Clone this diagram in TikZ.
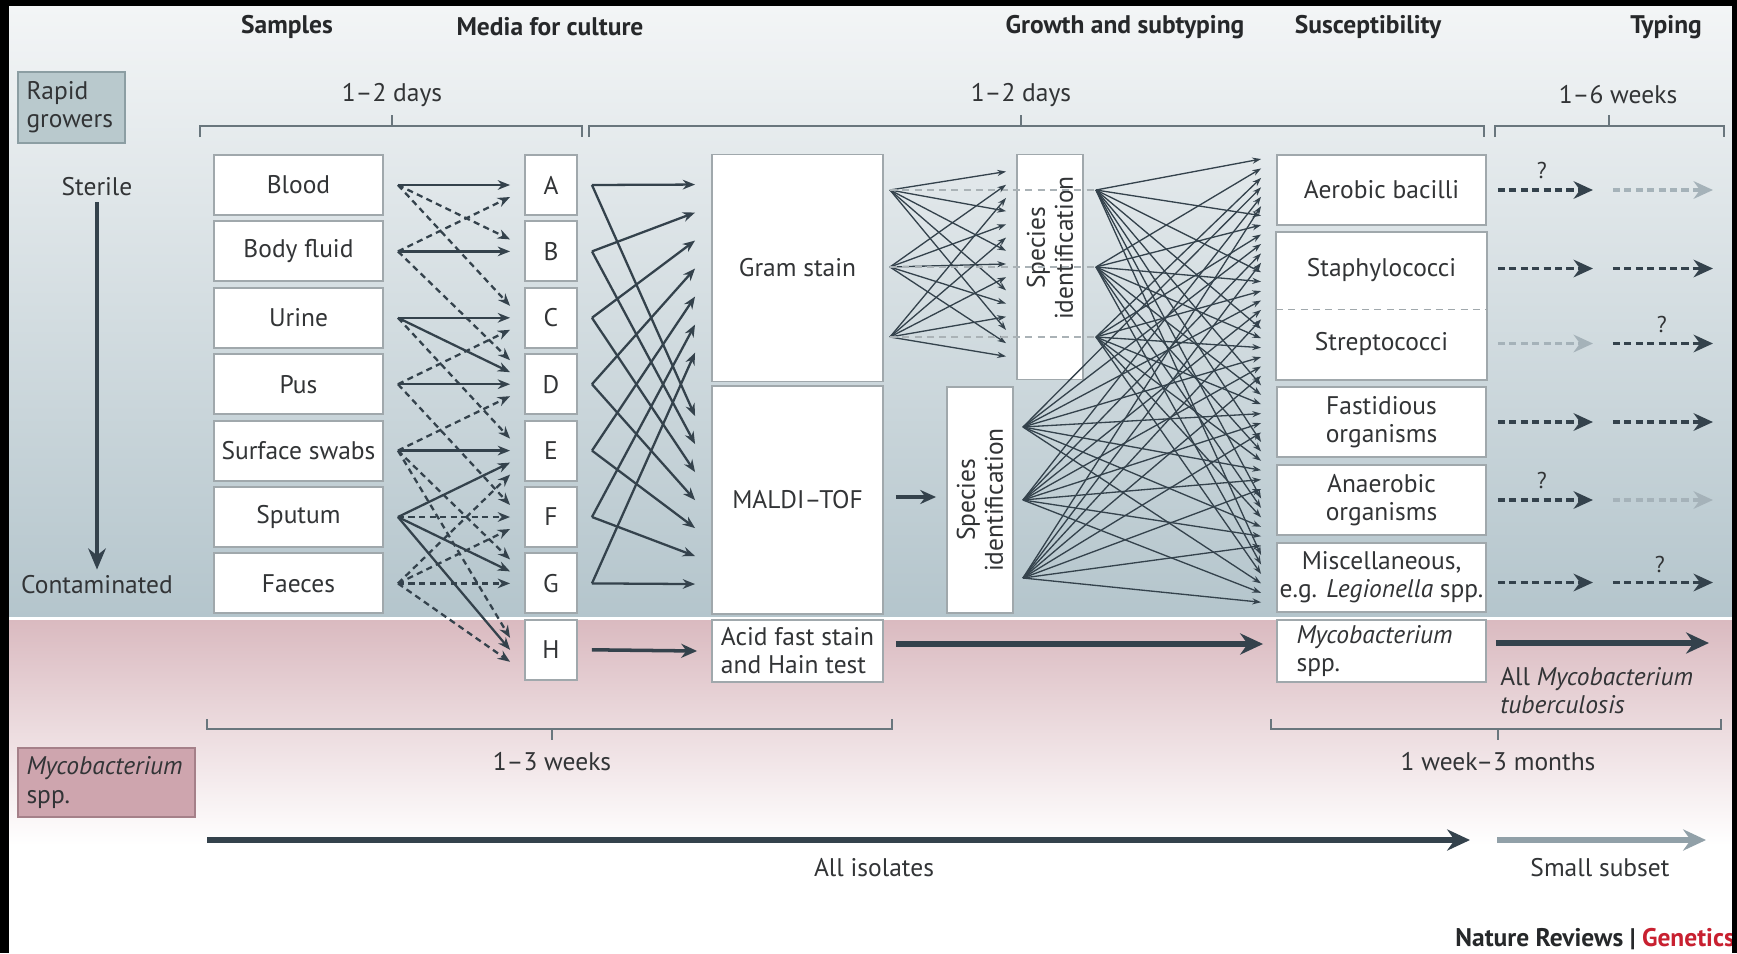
\documentclass[tikz,border=0pt]{standalone}
\usepackage{fontspec}
\setmainfont{PT Sans}
\usetikzlibrary{arrows.meta,calc,positioning}
\definecolor{ink}{RGB}{50,52,54}
\definecolor{headc}{RGB}{38,40,42}
\definecolor{linec}{RGB}{52,66,76}
\definecolor{boxline}{RGB}{160,168,172}
\definecolor{bgtop}{RGB}{243,245,246}
\definecolor{bgbot}{RGB}{180,197,204}
\definecolor{pinktop}{RGB}{218,186,192}
\definecolor{lightarr}{RGB}{165,178,185}
\definecolor{subc}{RGB}{145,160,168}
\definecolor{idline}{RGB}{170,178,182}
\definecolor{rapidfill}{RGB}{185,201,205}
\definecolor{rapidline}{RGB}{140,158,163}
\definecolor{mycofill}{RGB}{206,165,174}
\definecolor{mycoline}{RGB}{165,128,137}
\definecolor{brkc}{RGB}{105,118,125}
\definecolor{natred}{RGB}{200,32,48}

\begin{document}
\begin{tikzpicture}[x=0.02cm,y=-0.02cm,text=ink,
    font=\fontsize{14.5}{16}\selectfont,
    cbox/.style={draw=boxline,line width=1.1pt,fill=white,inner sep=0pt,align=center},
    smpbox/.style={cbox,minimum width=3.38cm,minimum height=1.2cm},
    medbox/.style={cbox,minimum width=1.04cm,minimum height=1.2cm},
    resbox/.style={cbox,minimum width=4.18cm},
    headtxt/.style={font=\fontsize{14.5}{16}\selectfont\bfseries,text=headc},
    smparr/.style={draw=linec,line width=1.3pt,-{Stealth[length=7pt,width=5.5pt]}},
    smpdash/.style={smparr,dash pattern=on 3.5pt off 2.5pt},
    fanarr/.style={draw=linec,line width=0.75pt,-{Stealth[length=5pt,width=3.5pt]}},
    typarr/.style={line width=2.2pt,dash pattern=on 4pt off 2.5pt,-{Stealth[length=11pt,width=10pt]}},
    bigarr/.style={draw=linec,line width=3pt,-{Stealth[length=13pt,width=12pt]}},
    brk/.style={draw=brkc,line width=1.2pt}]
    \useasboundingbox (0,0) rectangle (1737,953);
    \fill[black] (0,0) rectangle (1737,953);
    \shade[top color=bgtop,bottom color=bgbot] (9,7) rectangle (1732,617);
    \fill[white] (9,617) rectangle (1732,953);
    \shade[top color=pinktop,bottom color=white] (9,620) rectangle (1732,845);

    \node[headtxt] (hsmp) at (287,27) {Samples};
    \node[headtxt] (hmed) at (550,27) {Media for culture};
    \node[headtxt] (hgro) at (1125,27) {Growth and subtyping};
    \node[headtxt] (hsus) at (1368,27) {Susceptibility};
    \node[headtxt] (htyp) at (1666,27) {Typing};

    \node (dur1) at (392,95) {1–2 days};
    \node (dur2) at (1021,95) {1–2 days};
    \node (dur3) at (1618,95) {1–6 weeks};
    \draw[brk] (200,137) -- (200,126) -- (582,126) -- (582,137) (392,126) -- (392,115);
    \draw[brk] (589,137) -- (589,126) -- (1484,126) -- (1484,137) (1021,126) -- (1021,115);
    \draw[brk] (1495,137) -- (1495,126) -- (1724,126) -- (1724,137) (1609,126) -- (1609,115);

    \node[draw=rapidline,fill=rapidfill,line width=1pt,minimum width=2.14cm,minimum height=1.42cm,
          inner sep=0pt,text width=1.8cm,align=left] (rapid) at (71.5,107.5) {Rapid\\growers};
    \node (ster) at (97,187) {Sterile};
    \node (cont) at (97,585) {Contaminated};
    \draw[linec,line width=2pt,-{Stealth[length=12pt,width=10pt]}] (ster) -- (cont);

    \foreach \lab [count=\i] in {Blood,Body fluid,Urine,Pus,Surface swabs,Sputum,Faeces}{
        \node[smpbox] (s\i) at (298.5,{185+66.4*(\i-1)}) {\lab};
    }
    \foreach \l [count=\i from 0] in {A,...,H}{
        \node[medbox] (m\l) at (551,{185+66.4*\i}) {\l};
    }
    \node[cbox,minimum width=3.42cm,minimum height=4.54cm] (gram) at (797.5,268) {Gram stain};
    \node[cbox,minimum width=3.42cm,minimum height=4.56cm] (maldi) at (797.5,500) {MALDI–TOF};
    \node[cbox,minimum width=3.42cm,minimum height=1.24cm,align=left] (acid) at (797.5,651) {Acid fast stain\\and Hain test};
    \node[cbox,minimum width=1.32cm,minimum height=4.5cm] (idup) at (1050,267) {};
    \node[rotate=90,align=center] (iduptxt) at (1050,248) {Species\\identification};
    \node[cbox,minimum width=1.32cm,minimum height=4.52cm] (idlow) at (980,500) {};
    \node[rotate=90,align=center] (idlowtxt) at (idlow) {Species\\identification};

    \node[resbox,minimum height=1.4cm] (aer) at (1381.5,190) {Aerobic bacilli};
    \node[resbox,draw=none,minimum height=1.51cm] (sta) at (1381.5,270.5) {Staphylococci};
    \node[resbox,draw=none,minimum height=1.41cm] (str) at (1381.5,343.5) {Streptococci};
    \draw[boxline,line width=1.1pt] (sta.north west) rectangle (str.south east);
    \draw[boxline,line width=0.8pt,dash pattern=on 4pt off 3pt] (sta.south west) -- (sta.south east);
    \node[resbox,minimum height=1.4cm] (fas) at (1381.5,422) {Fastidious\\organisms};
    \node[resbox,minimum height=1.4cm] (ana) at (1381.5,500) {Anaerobic\\organisms};
    \node[resbox,minimum height=1.38cm] (mis) at (1381.5,577.5) {Miscellaneous,\\e.g. \textit{Legionella} spp.};
    \node[resbox,minimum height=1.24cm,text width=3.4cm,align=left] (myc) at (1381.5,651) {\textit{Mycobacterium}\\spp.};

    \foreach \s/\t/\o in {1/A/0,2/B/0,3/C/0,3/D/-12,4/D/0,5/E/0,6/E/12,6/G/-12,6/H/0}
        \draw[smparr] ($(s\s.east)+(14,0)$) -- ($(m\t.west)+(-14,\o)$);
    \foreach \s/\t/\o in {1/B/-12,1/C/-12,2/A/12,2/D/-24,3/E/-12,4/C/12,4/F/-12,5/D/12,
                          5/G/-24,5/H/-12,6/F/0,7/E/24,7/F/12,7/G/0,7/H/12}
        \draw[smpdash] ($(s\s.east)+(14,0)$) -- ($(m\t.west)+(-14,\o)$);

    \foreach \l [count=\i from 0] in {A,...,G}{
        \draw[smparr] ($(m\l.east)+(14,0)$) -- ($(gram.north west)+(-16,{31+28*\i})$);
        \draw[smparr] ($(m\l.east)+(14,0)$) -- ($(maldi.north west)+(-16,{31+28*\i})$);
    }

    \coordinate (g1) at ($(gram.east)+(6,-78)$);
    \coordinate (g2) at ($(gram.east)+(6,-1)$);
    \coordinate (g3) at ($(gram.east)+(6,69)$);
    \coordinate (u1) at ($(idup.east)+(12,-77)$);
    \coordinate (u2) at ($(idup.east)+(12,0)$);
    \coordinate (u3) at ($(idup.east)+(12,70)$);
    \coordinate (l1) at ($(idlow.east)+(9,-73)$);
    \coordinate (l2) at ($(idlow.east)+(9,0)$);
    \coordinate (l3) at ($(idlow.east)+(9,78)$);
    \foreach \i in {1,2,3}{
        \foreach \m in {0,...,4}
            \draw[fanarr] (g\i) -- ($(idup.north west)+(-10,{18+13.2*(3*\m+\i-1)})$);
        \draw[idline,line width=0.9pt,dash pattern=on 4pt off 3pt] (g\i) -- (u\i);
    }
    \foreach \src [count=\k from 0] in {u1,u2,u3,l1,l2,l3}{
        \foreach \m in {0,...,7}
            \draw[fanarr] (\src) -- ($(aer.north west)+(-15,{5+9.43*(6*\m+\k)})$);
    }
    \draw[linec,line width=2pt,-{Stealth[length=9pt,width=8pt]}] ($(maldi.east)+(12,-3)$) -- ($(idlow.west)+(-10,-3)$);

    \foreach \b/\o/\ca/\cb in {aer/0/linec/lightarr,sta/-2/linec/linec,str/0/lightarr/linec,
                              fas/0/linec/linec,ana/0/linec/lightarr,mis/5/linec/linec}{
        \draw[typarr,\ca] ($(\b.east)+(11,\o)$) -- ($(\b.east)+(106,\o)$);
        \draw[typarr,\cb] ($(\b.east)+(126,\o)$) -- ($(\b.east)+(226,\o)$);
    }
    \node[font=\fontsize{13}{14}\selectfont] (q1) at ($(aer.east)+(55,-19)$) {?};
    \node[font=\fontsize{13}{14}\selectfont] (q2) at ($(str.east)+(175,-19)$) {?};
    \node[font=\fontsize{13}{14}\selectfont] (q3) at ($(ana.east)+(55,-20)$) {?};
    \node[font=\fontsize{13}{14}\selectfont] (q4) at ($(mis.east)+(173,-13)$) {?};

    \draw[linec,line width=2pt,-{Stealth[length=9pt,width=8pt]}] ($(mH.east)+(14,0)$) -- ($(acid.west)+(-14,0)$);
    \draw[bigarr] ($(acid.east)+(12,-7)$) -- ($(myc.west)+(-13,-7)$);
    \draw[bigarr] ($(myc.east)+(9,-8)$) -- ($(myc.east)+(222,-8)$);
    \node[anchor=north west,inner sep=0pt,align=left] (tbtxt) at ($(myc.east)+(13,16)$)
        {All \textit{Mycobacterium}\\\textit{tuberculosis}};

    \draw[brk] (207,719) -- (207,729) -- (892,729) -- (892,719) (552,729) -- (552,740);
    \draw[brk] (1271,719) -- (1271,729) -- (1721,729) -- (1721,719) (1498,729) -- (1498,740);
    \node (dur4) at (552,762) {1–3 weeks};
    \node (dur5) at (1498,762) {1 week–3 months};
    \node[draw=mycoline,fill=mycofill,line width=1pt,minimum width=3.54cm,minimum height=1.38cm,
          inner sep=0pt,text width=3.2cm,align=left] (mycol) at (106.5,782.5) {\textit{Mycobacterium}\\spp.};

    \coordinate (allL) at (207,840);
    \coordinate (allR) at (1470,840);
    \coordinate (subL) at (1497,840);
    \coordinate (subR) at (1706,840);
    \draw[bigarr] (allL) -- (allR);
    \draw[bigarr,draw=subc] (subL) -- (subR);
    \node (alltxt) at (874,868) {All isolates};
    \node (subtxt) at (1600,868) {Small subset};
    \node[anchor=east,headtxt] (brand) at (1741,939) {Nature Reviews | \textcolor{natred}{Genetics}};
    \fill[black] (1732,0) rectangle (1737,953);
\end{tikzpicture}
\end{document}
